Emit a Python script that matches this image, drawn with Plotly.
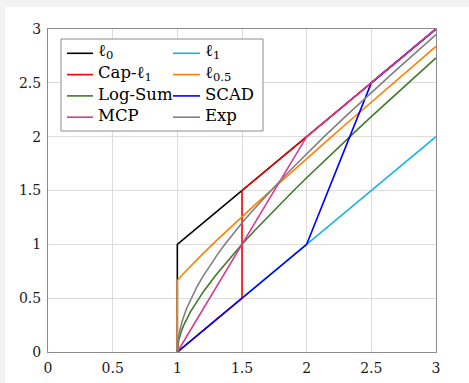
import plotly.graph_objects as go

# ---- data ----
l0_x = [1, 1, 3]
l0_y = [0, 1, 3]

l1_x = [1, 3]
l1_y = [0, 2]

cap_x = [1, 1.5, 1.5, 3]
cap_y = [0, 0.5, 1.5, 3]

lhalf_x = [1, 1, 1.05, 1.1, 1.2, 1.3, 1.4, 1.5, 1.6, 1.7, 1.8, 1.9, 2.0,
           2.1, 2.2, 2.3, 2.4, 2.5, 2.6, 2.7, 2.8, 2.9, 3.0]
lhalf_y = [0, 0.667, 0.732, 0.795, 0.916, 1.032, 1.146, 1.257, 1.367, 1.476,
           1.584, 1.691, 1.797, 1.903, 2.008, 2.113, 2.218, 2.322, 2.426,
           2.529, 2.633, 2.736, 2.839]

logsum_x = [1, 1.01, 1.03, 1.05, 1.1, 1.2, 1.3, 1.4, 1.5, 1.6, 1.7, 1.8, 1.9,
            2.0, 2.1, 2.2, 2.3, 2.4, 2.5, 2.6, 2.7, 2.8, 2.9, 3.0]
logsum_y = [0, 0.105, 0.189, 0.25, 0.370, 0.558, 0.718, 0.863, 1.0, 1.131,
            1.257, 1.380, 1.5, 1.618, 1.734, 1.849, 1.962, 2.075, 2.186,
            2.297, 2.406, 2.516, 2.624, 2.732]

scad_x = [1, 2, 2.5, 3]
scad_y = [0, 1, 2.5, 3]

mcp_x = [1, 2, 3]
mcp_y = [0, 2, 3]

exp_x = [1, 1.005, 1.019, 1.041, 1.070, 1.107, 1.149, 1.197, 1.249, 1.307,
         1.368, 1.433, 1.501, 1.573, 1.647, 1.723, 1.802, 1.883, 1.965,
         2.050, 2.135, 2.311, 2.491, 2.674, 2.861, 3.0]
exp_y = [0, 0.1, 0.2, 0.3, 0.4, 0.5, 0.6, 0.7, 0.8, 0.9, 1.0, 1.1, 1.2, 1.3,
         1.4, 1.5, 1.6, 1.7, 1.8, 1.9, 2.0, 2.2, 2.4, 2.6, 2.8, 2.948]

ticks = [0, 0.5, 1, 1.5, 2, 2.5, 3]
tick_text = ["0", "0.5", "1", "1.5", "2", "2.5", "3"]

# name, x, y, colour, legend column, legend row
series = [
    ("ℓ<sub>0</sub>", l0_x, l0_y, "#000000", 0, 0),
    ("ℓ<sub>1</sub>", l1_x, l1_y, "#1ab2e8", 1, 0),
    ("Cap-ℓ<sub>1</sub>", cap_x, cap_y, "#ff0000", 0, 1),
    ("ℓ<sub>0.5</sub>", lhalf_x, lhalf_y, "#ff8000", 1, 1),
    ("Log-Sum", logsum_x, logsum_y, "#3f7a28", 0, 2),
    ("SCAD", scad_x, scad_y, "#0000ff", 1, 2),
    ("MCP", mcp_x, mcp_y, "#d63a91", 0, 3),
    ("Exp", exp_x, exp_y, "#808080", 1, 3),
]

W, H = 469, 383
ml, mr, mt, mb = 48, 33, 29, 31
pw, ph = W - ml - mr, H - mt - mb


def px(x):
    return (x - ml) / pw


def py(y):
    return (H - mb - y) / ph


font = "DejaVu Serif"

fig = go.Figure()
for name, xs, ys, col, c, r in series:
    fig.add_trace(go.Scatter(x=xs, y=ys, mode="lines", name=name,
                             line=dict(color=col, width=1.6),
                             showlegend=False))

# manual two-column legend
shapes = [
    dict(type="rect", xref="paper", yref="paper",
         x0=px(61), x1=px(263), y0=py(131), y1=py(39),
         line=dict(color="#8c8c8c", width=1), fillcolor="white",
         layer="above"),
    dict(type="rect", xref="paper", yref="paper",
         x0=px(0), x1=px(5), y0=py(H), y1=py(0),
         line=dict(width=0), fillcolor="#f3f3f3", layer="below"),
    dict(type="rect", xref="paper", yref="paper",
         x0=px(0), x1=px(W), y0=py(7), y1=py(0),
         line=dict(width=0), fillcolor="#f3f3f3", layer="below"),
]
annotations = []
col_line_x = [(67, 93), (173, 200)]
col_text_x = [96, 203]
for name, xs, ys, col, c, r in series:
    yrow = 53.3 + 21.3 * r
    shapes.append(dict(type="line", xref="paper", yref="paper",
                       x0=px(col_line_x[c][0]), x1=px(col_line_x[c][1]),
                       y0=py(yrow), y1=py(yrow),
                       line=dict(color=col, width=1.6), layer="above"))
    annotations.append(dict(xref="paper", yref="paper", x=px(col_text_x[c]),
                            y=py(yrow - 1.5), text=name, showarrow=False,
                            xanchor="left", yanchor="middle",
                            font=dict(family=font, size=16.5, color="#000000")))

axis_common = dict(range=[0, 3], tickvals=ticks, ticktext=tick_text,
                   showgrid=True, gridcolor="#dcdcdc", gridwidth=1,
                   showline=True, linecolor="#8c8c8c", linewidth=1, mirror=True,
                   zeroline=False, ticks="outside", ticklen=3,
                   tickcolor="rgba(0,0,0,0)", automargin=False,
                   tickfont=dict(family=font, size=14, color="#1a1a1a"))

fig.update_layout(
    width=W, height=H,
    margin=dict(l=ml, r=mr, t=mt, b=mb),
    paper_bgcolor="white", plot_bgcolor="white",
    xaxis=axis_common, yaxis=axis_common,
    showlegend=False,
    shapes=shapes, annotations=annotations,
)

fig.write_html("out.html", config={"displayModeBar": False},
               post_script="document.body.style.margin='0';")
